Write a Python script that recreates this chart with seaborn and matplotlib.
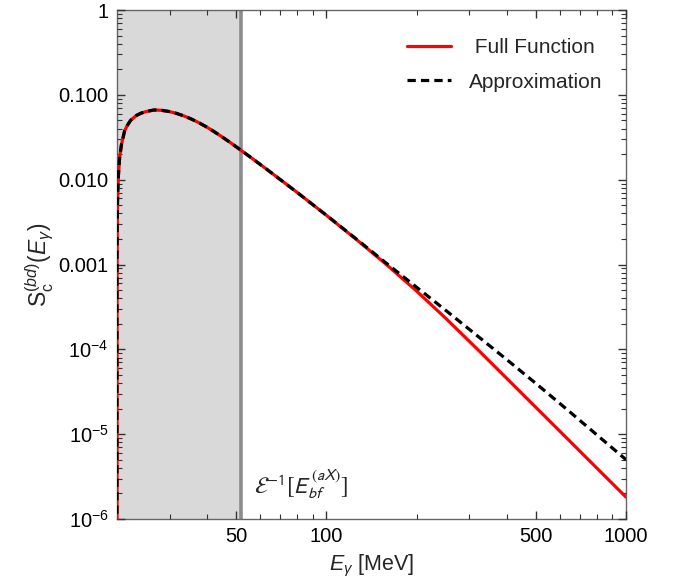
import numpy as np
import pandas as pd
import matplotlib
matplotlib.use("Agg")
import matplotlib.pyplot as plt
import matplotlib.ticker as mticker
import seaborn as sns

# ---- data ----
full_x = [20.0, 20.001, 20.01, 20.05, 20.1, 20.2, 20.4, 20.7, 21.2, 21.6, 22.2, 23.2,
          24.0, 25.0, 26.6, 28.18, 29.85, 31.62, 33.5, 35.48, 37.58, 39.81, 42.17,
          44.67, 47.32, 50.12, 56.23, 63.1, 79.43, 100.0, 125.9, 158.5, 199.5,
          251.2, 316.2, 398.1, 501.2, 631.0, 794.3, 1000.0]
full_y = [8e-7, 2.6e-4, 1.31e-3, 4.06e-3, 6.6e-3, 0.0107, 0.0180, 0.026, 0.0375,
          0.043, 0.0500, 0.0570, 0.0606, 0.0635, 0.0663, 0.06567, 0.06362, 0.06039,
          0.05629, 0.05170, 0.04682, 0.04178, 0.03687, 0.03225, 0.02803, 0.02425,
          0.01803, 0.01332, 0.007181, 0.003803, 0.001973, 0.0010005, 4.90e-4,
          2.292e-4, 1.036e-4, 4.615e-5, 2.055e-5, 9.15e-6, 4.07e-6, 1.811e-6]
approx_x = full_x
approx_y = [8e-7, 2.6e-4, 1.31e-3, 4.06e-3, 6.6e-3, 0.0107, 0.0180, 0.026, 0.0375,
            0.043, 0.0500, 0.0570, 0.0606, 0.0635, 0.0663, 0.06567, 0.06362, 0.06039,
            0.05629, 0.05170, 0.04682, 0.04178, 0.03687, 0.03225, 0.02803, 0.02425,
            0.01803, 0.01332, 0.007181, 0.003803, 0.001995, 0.001035, 5.43e-4,
            2.85e-4, 1.479e-4, 7.67e-5, 3.94e-5, 1.995e-5, 1.0e-5, 5.01e-6]
series_names = ["Full Function", "Approximation"]
shade_edge = 51.8
x_major_ticks = [50, 100, 500, 1000]
x_major_labels = ["50", "100", "500", "1000"]
x_minor_ticks = [30, 40, 60, 70, 80, 90, 200, 300, 400, 600, 700, 800, 900]
y_major_ticks = [1, 0.1, 0.01, 0.001, 1e-4, 1e-5, 1e-6]
y_major_labels = ["1", "0.100", "0.010", "0.001", r"$10^{-4}$", r"$10^{-5}$", r"$10^{-6}$"]

df_full = pd.DataFrame({"x": full_x, "y": full_y})
df_approx = pd.DataFrame({"x": approx_x, "y": approx_y})

sns.set_style("ticks")
plt.rcParams["font.family"] = ["Liberation Sans", "DejaVu Sans"]
plt.rcParams["mathtext.fontset"] = "custom"
plt.rcParams["mathtext.rm"] = "Liberation Sans"
plt.rcParams["mathtext.it"] = "Liberation Sans:italic"
plt.rcParams["mathtext.bf"] = "Liberation Sans:bold"

fig = plt.figure(figsize=(6.76, 5.84), dpi=100)
ax = fig.add_axes([117 / 676, 1 - 519 / 584, 509 / 676, 509 / 584])

ax.axvspan(20, shade_edge, color="#d9d9d9", lw=0, zorder=0)
ax.axvline(shade_edge, color="#8c8c8c", lw=2.6, zorder=1)

sns.lineplot(data=df_full, x="x", y="y", ax=ax, color="#ff0000", lw=2.3,
             label=series_names[0], sort=False, zorder=3)
sns.lineplot(data=df_approx, x="x", y="y", ax=ax, color="black", lw=2.3,
             linestyle=(0, (2.6, 1.6)), label=series_names[1], sort=False, zorder=4)

ax.set_xscale("log")
ax.set_yscale("log")
ax.set_xlim(20, 1000)
ax.set_ylim(1e-6, 1)
ax.set_axisbelow(False)

ax.set_xticks(x_major_ticks)
ax.set_xticklabels(x_major_labels)
ax.set_xticks(x_minor_ticks, minor=True)
ax.xaxis.set_minor_formatter(mticker.NullFormatter())
ax.set_yticks(y_major_ticks)
ax.set_yticklabels(y_major_labels)
ax.yaxis.set_minor_locator(mticker.LogLocator(base=10, subs=np.arange(2, 10), numticks=20))
ax.yaxis.set_minor_formatter(mticker.NullFormatter())

ax.tick_params(which="both", direction="in", top=True, right=True, bottom=True, left=True,
               color="#333333", labelcolor="black", labelsize=14.5, pad=6)
ax.tick_params(which="major", length=6, width=1.0)
ax.tick_params(which="minor", length=3.5, width=0.8)
for s in ax.spines.values():
    s.set_color("#666666")
    s.set_linewidth(1.0)

ax.set_xlabel(r"$E_\gamma$ [MeV]", fontsize=15.5, labelpad=5)
ax.set_ylabel(r"$\mathrm{S}_\mathrm{c}^{(bd)}(E_\gamma)$", fontsize=16.5, labelpad=2)

ax.text(57.5, 2.6e-6, r"$\mathcal{E}^{-1}[E_{bf}^{(aX)}]$", fontsize=16.5,
        va="center", ha="left", math_fontfamily="stixsans")

handles, labels = ax.get_legend_handles_labels()
leg = ax.legend(handles, [" " + labels[0], labels[1]], loc="upper right",
                bbox_to_anchor=(0.99, 0.982), frameon=False, fontsize=15,
                handlelength=2.1, handletextpad=0.85, labelspacing=0.75)

fig.savefig("out.png", dpi=100)
